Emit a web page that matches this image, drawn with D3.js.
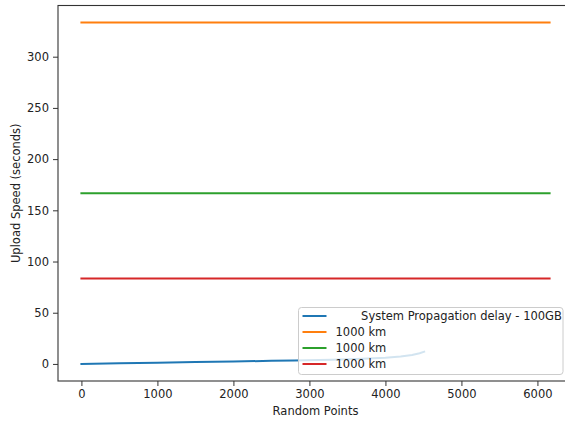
<!DOCTYPE html>
<html>
<head>
<meta charset="utf-8">
<script src="https://cdn.jsdelivr.net/npm/d3@7"></script>
<style>
  html, body { margin: 0; padding: 0; background: #fff; }
  svg { display: block; font-family: "DejaVu Sans", sans-serif; }
  text { fill: #222; }
</style>
</head>
<body>
<svg id="chart" width="565" height="421"></svg>
<script>
// Upload time series (seconds) against random sample points
const delayX = [0, 500, 1000, 1500, 2000, 2500, 2800, 3300, 3700, 4000, 4200, 4350, 4450, 4510];
const delayY = [0, 0.6, 1.2, 1.8, 2.4, 3.0, 3.4, 4.2, 5.0, 6.0, 7.3, 8.8, 10.5, 12.0];
const flatX = [0, 6160];
const flatLevels = [333.33, 166.67, 83.33];
const seriesNames = ["       System Propagation delay - 100GB", "1000 km", "1000 km", "1000 km"];
const seriesColors = ["#1f77b4", "#ff7f0e", "#2ca02c", "#d62728"];
const xTicks = [0, 1000, 2000, 3000, 4000, 5000, 6000];
const yTicks = [0, 50, 100, 150, 200, 250, 300];

const FONT = 11.5;
const svg = d3.select("#chart");
const plot = { left: 58, right: 573, top: 5.5, bottom: 381 };

// 5% padding around the data range on both axes
const xMax = d3.max(flatX), yMax = d3.max(flatLevels);
const x = d3.scaleLinear().domain([-0.05 * xMax, 1.05 * xMax]).range([plot.left, plot.right]);
const y = d3.scaleLinear().domain([-0.05 * yMax, 1.05 * yMax]).range([plot.bottom, plot.top]);

const line = d3.line().x(d => x(d[0])).y(d => y(d[1]));

// Series: the delay curve followed by the three constant levels
const series = [d3.zip(delayX, delayY)].concat(
  flatLevels.map(v => flatX.map(px => [px, v]))
);

svg.append("g").selectAll("path").data(series).join("path")
  .attr("d", line)
  .attr("fill", "none")
  .attr("stroke", (d, i) => seriesColors[i])
  .attr("stroke-width", 2)
  .attr("stroke-linecap", "square");

// Axes
const xAxis = svg.append("g")
  .attr("transform", `translate(0,${plot.bottom})`)
  .call(d3.axisBottom(x).tickValues(xTicks).tickSize(5).tickPadding(4).tickFormat(d3.format("d")));
const yAxis = svg.append("g")
  .attr("transform", `translate(${plot.left},0)`)
  .call(d3.axisLeft(y).tickValues(yTicks).tickSize(5).tickPadding(4).tickFormat(d3.format("d")));

[xAxis, yAxis].forEach(g => {
  g.select(".domain").remove();
  g.selectAll(".tick line").attr("stroke", "#333").attr("stroke-width", 1);
  g.selectAll(".tick text").attr("font-size", FONT).attr("fill", "#222")
    .attr("font-family", "DejaVu Sans, sans-serif");
});

// Frame (spines)
svg.append("rect")
  .attr("x", plot.left).attr("y", plot.top)
  .attr("width", plot.right - plot.left).attr("height", plot.bottom - plot.top)
  .attr("fill", "none").attr("stroke", "#333").attr("stroke-width", 1.1);

// Axis titles
svg.append("text")
  .attr("x", (plot.left + plot.right) / 2).attr("y", 415)
  .attr("text-anchor", "middle").attr("font-size", FONT)
  .text("Random Points");
svg.append("text")
  .attr("transform", `translate(20,${(plot.top + plot.bottom) / 2}) rotate(-90)`)
  .attr("text-anchor", "middle").attr("font-size", FONT)
  .text("Upload Speed (seconds)");

// Legend
const legend = svg.append("g").attr("transform", "translate(298.5,307.5)");
legend.append("rect")
  .attr("width", 264.5).attr("height", 67).attr("rx", 3)
  .attr("fill", "#fff").attr("fill-opacity", 0.8)
  .attr("stroke", "#ccc").attr("stroke-width", 1);
const rows = legend.selectAll("g.row").data(seriesNames).join("g")
  .attr("class", "row")
  .attr("transform", (d, i) => `translate(0,${8.5 + i * 16})`);
rows.append("line")
  .attr("x1", 4).attr("x2", 28)
  .attr("stroke", (d, i) => seriesColors[i]).attr("stroke-width", 2);
rows.append("text")
  .attr("x", 37).attr("dy", "0.35em")
  .attr("font-size", FONT)
  .style("white-space", "pre")
  .text(d => d);
</script>
</body>
</html>
